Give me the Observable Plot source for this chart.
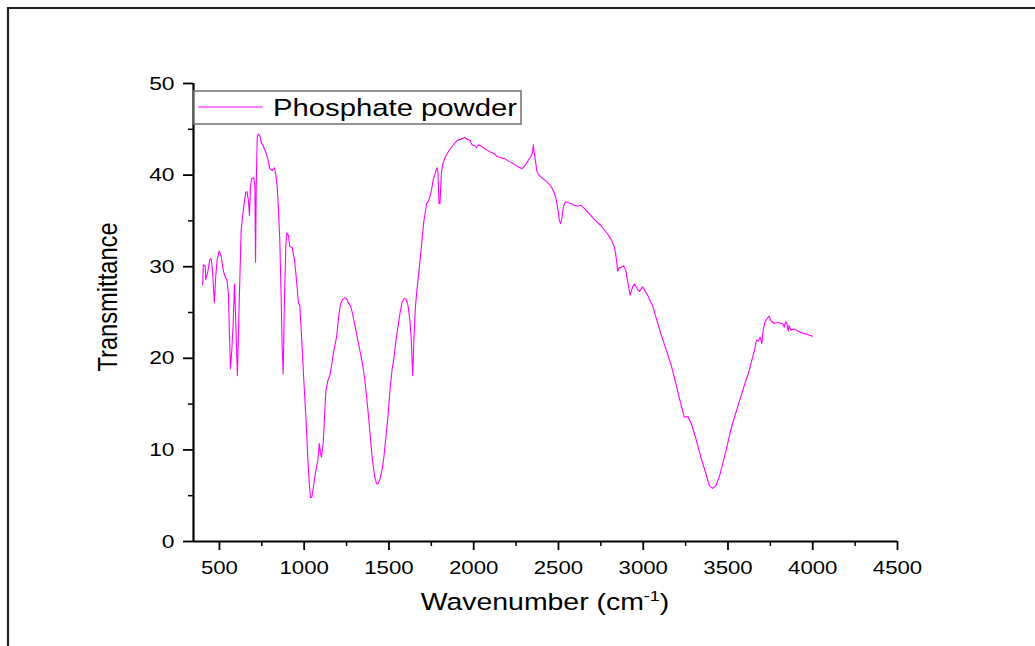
<!DOCTYPE html>
<html><head><meta charset="utf-8">
<script src="https://cdn.jsdelivr.net/npm/d3@7"></script>
<script src="https://cdn.jsdelivr.net/npm/@observablehq/plot@0.6"></script>
<style>body{margin:0;background:#fff}</style>
</head><body><div id="chart"></div>
<script>
const wavenumber = [401,405,416,419,431,443,451,459,470,478,486,498,510,518,525,534,545,553,559,565,573,581,589,596,606,616,628,643,655,663,671,677,683,689,703,709,713,717,723,730,738,746,758,773,785,797,813,825,832,841,848,856,864,870,876,884,892,898,907,915,929,943,955,966,974,986,998,1010,1021,1030,1037,1045,1057,1069,1080,1089,1096,1102,1112,1120,1128,1140,1151,1163,1175,1191,1203,1214,1226,1238,1250,1262,1274,1285,1297,1313,1328,1344,1356,1368,1380,1392,1403,1415,1427,1435,1447,1459,1470,1482,1494,1506,1518,1530,1541,1553,1565,1577,1589,1600,1612,1624,1632,1640,1647,1656,1667,1679,1691,1706,1722,1734,1746,1754,1762,1770,1777,1785,1789,1795,1801,1809,1817,1833,1852,1864,1884,1904,1923,1947,1963,1978,1990,2006,2018,2025,2041,2061,2081,2100,2124,2140,2159,2183,2208,2238,2262,2285,2301,2321,2337,2347,2352,2356,2364,2372,2380,2396,2415,2435,2459,2474,2486,2498,2506,2514,2521,2529,2541,2553,2573,2592,2612,2632,2651,2681,2710,2750,2789,2813,2829,2838,2850,2858,2868,2884,2897,2911,2923,2937,2949,2967,2978,2997,3016,3026,3045,3055,3075,3104,3134,3163,3193,3222,3242,3265,3285,3311,3340,3370,3390,3409,3429,3454,3488,3521,3557,3592,3626,3645,3658,3668,3680,3690,3700,3707,3717,3733,3743,3753,3773,3793,3813,3822,3832,3840,3848,3852,3856,3860,3864,3870,3891,3931,3970,3999];
const transmittance = [28.0,30.2,30.1,28.6,29.4,30.8,30.9,29.6,26.1,28.9,30.7,31.7,31.2,30.1,29.4,28.9,28.5,27.0,22.7,18.9,20.9,23.8,28.1,24.1,18.1,25.6,34.0,36.5,38.1,38.2,37.2,35.6,38.7,39.6,39.7,38.7,30.5,38.7,44.1,44.5,44.3,43.6,43.2,42.5,41.8,40.7,40.5,40.8,40.1,38.7,36.3,32.9,26.7,21.2,18.3,27.0,32.5,33.7,33.4,32.2,32.1,30.7,28.5,26.0,25.8,21.9,17.5,13.6,9.2,6.3,4.8,4.8,6.3,7.8,8.8,10.7,9.6,9.2,10.7,13.6,16.5,17.6,18.1,19.4,20.9,22.3,24.5,25.9,26.4,26.6,26.5,26.0,25.7,24.9,23.8,22.3,20.9,19.4,17.9,15.8,13.6,11.0,8.8,7.2,6.3,6.3,6.8,7.8,9.2,11.4,13.6,16.5,18.7,20.1,21.9,23.4,24.9,26.1,26.5,26.5,25.8,24.1,21.9,18.1,21.9,25.6,27.8,29.9,32.1,35.0,36.9,37.2,37.9,38.7,39.6,40.0,40.5,40.8,40.3,36.9,36.9,40.1,41.2,42.0,42.6,42.9,43.4,43.8,43.9,44.1,43.9,43.8,43.3,43.2,43.0,43.3,43.2,42.9,42.7,42.5,42.3,42.0,41.9,41.8,41.5,41.2,40.9,40.7,41.0,41.6,42.0,42.5,43.3,42.5,41.6,40.5,40.1,39.8,39.5,39.2,38.7,38.1,37.4,36.1,35.0,34.7,35.4,36.5,37.1,37.0,36.9,36.7,36.6,36.7,36.4,35.8,35.2,34.5,33.6,32.9,32.2,31.3,29.5,29.9,29.9,30.1,29.6,28.1,26.9,27.8,28.1,27.5,27.3,27.8,27.2,26.9,26.1,25.8,24.5,22.7,21.0,19.4,17.2,15.0,13.6,13.6,12.8,11.2,9.2,7.4,6.1,5.8,6.1,7.4,9.9,12.5,14.7,16.8,18.7,20.1,21.0,22.0,21.9,22.3,21.6,23.0,23.9,24.4,24.6,24.1,23.8,23.9,23.8,23.8,23.4,24.0,23.8,23.2,23.0,23.6,23.4,23.1,23.2,22.8,22.6,22.4];
const xTicks = [500,1000,1500,2000,2500,3000,3500,4000,4500];
const xMinorTicks = [750,1250,1750,2250,2750,3250,3750,4250];
const yTicks = [0,10,20,30,40,50];
const yMinorTicks = [5,15,25,35,45];
const seriesName = "Phosphate powder";
const xTitleMain = "Wavenumber (cm";
const xTitleSup = "-1";
const xTitleEnd = ")";
const yTitle = "Transmittance";
const lineColor = "#ff00ff";

const data = wavenumber.map((w, i) => ({w, t: transmittance[i]}));
const FONT = "'Liberation Sans', Arial, sans-serif";
const fmt = d => String(d);

const chart = Plot.plot({
  width: 1035, height: 646,
  marginLeft: 193, marginRight: 138, marginTop: 83, marginBottom: 105,
  x: {domain: [347, 4500]},
  y: {domain: [0, 50]},
  style: {fontFamily: FONT, fontSize: "18.5px", color: "black", background: "white", overflow: "visible"},
  marks: [
    Plot.axisX({ticks: xTicks, tickFormat: fmt, tickSize: 9, tickPadding: 10, strokeWidth: 1.8, label: null, fontSize: 18.5}),
    Plot.axisX({ticks: xMinorTicks, tickSize: 5, strokeWidth: 1.5, fill: "none", label: null}),
    Plot.axisY({ticks: yTicks, tickFormat: fmt, tickSize: 10, tickPadding: 9, strokeWidth: 1.8, label: null, fontSize: 19}),
    Plot.axisY({ticks: yMinorTicks, tickSize: 5, strokeWidth: 1.5, fill: "none", label: null}),
    Plot.ruleY([0], {strokeWidth: 2.2}),
    Plot.ruleX([347], {strokeWidth: 2.2}),
    Plot.line(data, {x: "w", y: "t", stroke: lineColor, strokeWidth: 1.1})
  ]
});

const svg = d3.select(chart);
// horizontally stretched type as in the reference
svg.selectAll("text").each(function() {
  const t = d3.select(this);
  const tr = t.attr("transform") || "";
  t.attr("transform", tr + " scale(1.2,1)");
});

// outer frame (top and left edges)
svg.append("path").attr("d", "M8,646 V8 H1035").attr("fill", "none").attr("stroke", "#222").attr("stroke-width", 2.2);

// legend
const lg = svg.append("g");
lg.append("rect").attr("x", 194).attr("y", 91).attr("width", 327).attr("height", 33)
  .attr("fill", "white").attr("stroke", "#777").attr("stroke-width", 1.6);
lg.append("line").attr("x1", 198).attr("x2", 263).attr("y1", 107).attr("y2", 107)
  .attr("stroke", lineColor).attr("stroke-width", 1.1);
lg.append("text").attr("transform", "translate(273,116) scale(1.2,1)").attr("text-anchor", "start")
  .attr("font-family", FONT).attr("font-size", 24.4).attr("fill", "black").text(seriesName);

// axis titles
svg.append("text").attr("transform", "translate(117,297) scale(1.2,1) rotate(-90)")
  .attr("text-anchor", "middle").attr("font-family", FONT).attr("font-size", 23.7).attr("fill", "black").text(yTitle);
const xt = svg.append("text").attr("transform", "translate(545,610) scale(1.2,1)")
  .attr("text-anchor", "middle").attr("font-family", FONT).attr("font-size", 23.7).attr("fill", "black");
xt.append("tspan").text(xTitleMain);
xt.append("tspan").attr("font-size", 15).attr("dy", -9).text(xTitleSup);
xt.append("tspan").attr("dy", 9).text(xTitleEnd);

document.getElementById("chart").appendChild(chart);
</script>
</body></html>
